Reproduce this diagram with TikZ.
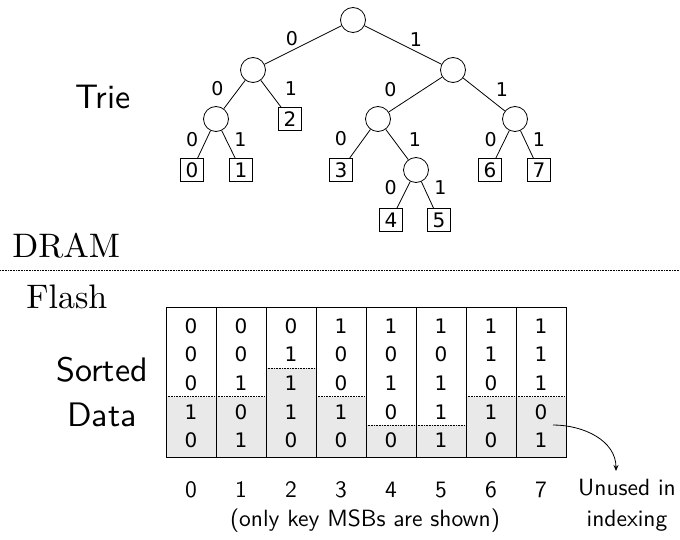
\documentclass[tikz,border=0pt]{standalone}
\usepackage{fontspec}
\setmainfont{lmroman10-regular}[Extension=.otf]
\setsansfont{lmsans10-regular}[Extension=.otf]
\newfontfamily\bitfont{DejaVu Sans}
\usetikzlibrary{arrows.meta, positioning}

\begin{document}
\begin{tikzpicture}[x=1pt, y=-1pt, line width=0.8pt,
  inode/.style={draw, circle, minimum size=25pt, inner sep=0pt},
  leaf/.style={draw, minimum size=23pt, inner sep=0pt, font=\bitfont\fontsize{20}{22}\selectfont},
  bit/.style={font=\bitfont\fontsize{19}{21}\selectfont, inner sep=1pt, midway},
  cell/.style={font=\bitfont\fontsize{20}{22}\selectfont},
  big/.style={font=\sffamily\fontsize{34}{45}\selectfont, align=center},
  mem/.style={font=\rmfamily\fontsize{34}{40}\selectfont, anchor=base west, inner sep=0pt},
  small/.style={font=\sffamily\fontsize{23.5}{31}\selectfont, align=center},
  arrow/.style={-{Stealth[length=6pt, width=5pt]}, line width=0.8pt}]
  \useasboundingbox (0,0) rectangle (680,540);

  % Trie
  \node[big] (trie) at (103,97) {Trie};
  \node[inode] (r) at (353,20) {};
  \node[inode] (n0) at (253,70) {};
  \node[inode] (n1) at (453,70) {};
  \node[inode] (n00) at (216,119) {};
  \node[leaf] (l2) at (290,119) {2};
  \node[inode] (n10) at (378,119) {};
  \node[inode] (n11) at (515,119) {};
  \node[leaf] (l0) at (192,170) {0};
  \node[leaf] (l1) at (241,170) {1};
  \node[leaf] (l3) at (341,170) {3};
  \node[inode] (n101) at (416,170) {};
  \node[leaf] (l6) at (490,170) {6};
  \node[leaf] (l7) at (539,170) {7};
  \node[leaf] (l4) at (391,220) {4};
  \node[leaf] (l5) at (439,220) {5};

  \draw (r) -- node[bit, xshift=-11pt, yshift=6pt] {0} (n0);
  \draw (r) -- node[bit, xshift=13pt, yshift=5pt] {1} (n1);
  \draw (n0) -- node[bit, xshift=-17pt, yshift=6pt] {0} (n00);
  \draw (n0) -- node[bit, xshift=20pt, yshift=5pt] {1} (l2);
  \draw (n00) -- node[bit, xshift=-12pt, yshift=5pt] {0} (l0);
  \draw (n00) -- node[bit, xshift=12pt, yshift=5pt] {1} (l1);
  \draw (n1) -- node[bit, xshift=-25pt, yshift=5pt] {0} (n10);
  \draw (n1) -- node[bit, xshift=18pt, yshift=5pt] {1} (n11);
  \draw (n10) -- node[bit, xshift=-19pt, yshift=5pt] {0} (l3);
  \draw (n10) -- node[bit, xshift=18pt, yshift=5pt] {1} (n101);
  \draw (n101) -- node[bit, xshift=-13pt, yshift=7pt] {0} (l4);
  \draw (n101) -- node[bit, xshift=13pt, yshift=7pt] {1} (l5);
  \draw (n11) -- node[bit, xshift=-12pt, yshift=5pt] {0} (l6);
  \draw (n11) -- node[bit, xshift=12pt, yshift=5pt] {1} (l7);

  % DRAM / Flash boundary
  \node[mem] (dram) at (12,258) {DRAM};
  \draw[densely dotted, line width=0.6pt] (0,270) -- (680,270);
  \node[mem] (flash) at (26,308) {Flash};

  % Sorted data, one column per key
  \node[big] (sorted) at (102,392) {Sorted\\Data};
  \foreach \ba/\bb/\bc/\bd/\be/\s [count=\i from 0] in
      {0/0/0/1/0/3, 0/0/1/0/1/3, 0/1/1/1/0/2, 1/0/0/1/0/3,
       1/0/1/0/0/4, 1/0/1/1/1/4, 1/1/0/1/0/3, 1/1/1/0/1/3} {
    \fill[gray!17] (166+50*\i, {325+28.6*(\s-0.5)}) rectangle (216+50*\i, 457);
    \draw[densely dotted, line width=0.6pt] (166+50*\i, {325+28.6*(\s-0.5)}) -- ++(50,0);
    \draw[line width=1pt] (166+50*\i, 307) rectangle (216+50*\i, 457);
    \foreach \b [count=\j from 0] in {\ba,\bb,\bc,\bd,\be}
      \node[cell] (c\i-\j) at (191+50*\i, {326+28.6*\j}) {\b};
    \node[small] (k\i) at (191+50*\i, 490) {\i};
  }
  \node[small] (note) at (365,521) {(only key MSBs are shown)};

  % Unused bits
  \node[small] (unused) at (627,505) {Unused in\\indexing};
  \coordinate (tail) at (553,425);
  \coordinate (tip) at (616,471);
  \draw[arrow] (tail) to[out=0, in=90] (tip);
\end{tikzpicture}
\end{document}
